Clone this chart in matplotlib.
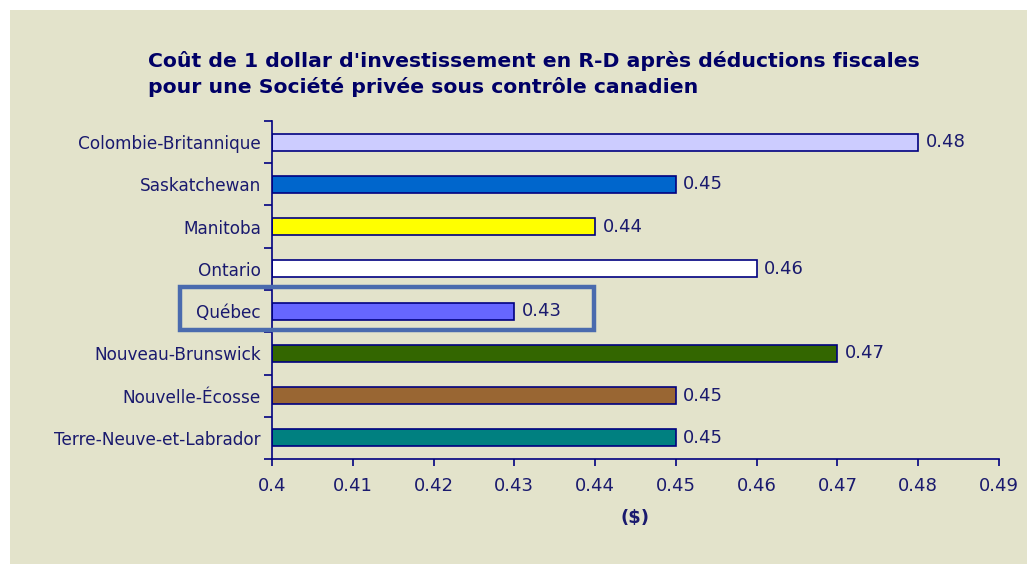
import matplotlib.pyplot as plt
from matplotlib.patches import Rectangle
import numpy as np

provinces = ["Colombie-Britannique", "Saskatchewan", "Manitoba", "Ontario",
             "Québec", "Nouveau-Brunswick", "Nouvelle-Écosse",
             "Terre-Neuve-et-Labrador"]
couts = [0.48, 0.45, 0.44, 0.46, 0.43, 0.47, 0.45, 0.45]
couleurs = ["#CCCCFF", "#0066CC", "#FFFF00", "#FFFFFF",
            "#6666FF", "#336600", "#996633", "#008080"]
xticks = [0.4, 0.41, 0.42, 0.43, 0.44, 0.45, 0.46, 0.47, 0.48, 0.49]

navy = "#000080"
texte = "#1A1A6E"
fond = "#E3E3CB"

plt.rcParams['font.family'] = ['DejaVu Sans']

fig = plt.figure(figsize=(10.27, 5.64), dpi=100, facecolor="white")
# panneau beige (le haut et la gauche restent blancs)
fig.patches.append(Rectangle((10 / 1027, 0), 1, 1 - 10 / 564,
                             transform=fig.transFigure, facecolor=fond,
                             edgecolor="none", zorder=-10))

ax = fig.add_axes([272 / 1027, 1 - 459 / 564, 727 / 1027, 338 / 564])
ax.set_facecolor("none")

y = np.arange(len(provinces))
bars = ax.barh(y, [c - 0.4 for c in couts], left=0.4, height=0.4,
               color=couleurs, edgecolor=navy, linewidth=1.2)

for yi, c in zip(y, couts):
    ax.text(c + 0.0009, yi, f"{c:.2f}", va="center", ha="left",
            fontsize=13, color=texte)

ax.set_xlim(0.4, 0.49)
ax.set_ylim(len(provinces) - 0.5, -0.5)
ax.set_xticks(xticks)
ax.set_xticklabels([f"{v:g}" for v in xticks], fontsize=13, color=texte)
ax.set_yticks(y)
ax.set_yticklabels(provinces, fontsize=12.2, color=texte)
ax.set_yticks(np.arange(-0.5, len(provinces), 1), minor=True)
ax.tick_params(axis="y", which="major", length=0, pad=8)
ax.tick_params(axis="y", which="minor", length=6, width=1.2, color=navy,
               direction="out")
ax.tick_params(axis="x", length=5, width=1.2, color=navy, direction="out",
               pad=8)

for s in ["top", "right"]:
    ax.spines[s].set_visible(False)
for s in ["left", "bottom"]:
    ax.spines[s].set_color(navy)
    ax.spines[s].set_linewidth(1.2)

ax.set_xlabel("($)", fontsize=13, fontweight="bold", color=texte, labelpad=10)

# cadre autour du Québec
ax.add_patch(Rectangle((0.3886, 4.45), 0.4399 - 0.3886, -1.02,
                       fill=False, edgecolor="#4A6BAE", linewidth=3.2,
                       clip_on=False, zorder=5))

fig.text(148 / 1027, 1 - 74 / 564,
         "Coût de 1 dollar d'investissement en R-D après déductions fiscales\n"
         "pour une Société privée sous contrôle canadien",
         ha="left", va="center", fontsize=14.7, fontweight="bold",
         color="#000066", linespacing=1.33)

fig.savefig("out.png", dpi=100, facecolor=fig.get_facecolor())
